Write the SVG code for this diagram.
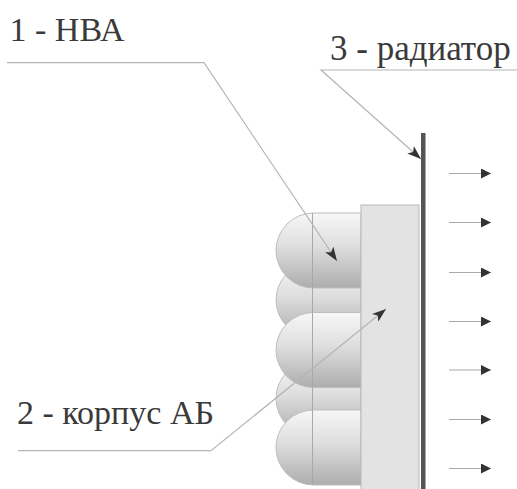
<svg xmlns="http://www.w3.org/2000/svg" width="517" height="489" viewBox="0 0 517 489">
  <defs>
    <linearGradient id="capsuleFill" x1="0" y1="0" x2="0" y2="1">
      <stop offset="0" stop-color="#f7f7f7"/>
      <stop offset="0.45" stop-color="#dedede"/>
      <stop offset="1" stop-color="#adadad"/>
    </linearGradient>
    <marker id="head" viewBox="0 0 14 10" refX="14" refY="5" markerWidth="14" markerHeight="10" markerUnits="userSpaceOnUse" orient="auto">
      <path d="M0,0 L14,5 L0,10 L3.5,5 Z" fill="#333333"/>
    </marker>
    <marker id="flow" viewBox="0 0 10 10" refX="10" refY="5" markerWidth="10" markerHeight="10" markerUnits="userSpaceOnUse" orient="auto">
      <path d="M0,0 L10,5 L0,10 Z" fill="#333333"/>
    </marker>
  </defs>
  <style>
    .label { font-family: 'Liberation Serif', 'Times New Roman', serif; font-size: 34px; fill: #3a3a3a; }
    .leader { fill: none; stroke: #b5b5b5; stroke-width: 1.2; }
    .capsule path { fill: url(#capsuleFill); stroke: #bdbdbd; stroke-width: 1; }
    .capsule line { stroke: #a8a8a8; stroke-width: 1; }
    .heat { stroke: #aaaaaa; stroke-width: 1.2; marker-end: url(#flow); }
  </style>

  <rect width="517" height="489" fill="#ffffff"/>

  <!-- cells: back row first, front row over it -->
  <g id="cells">
    <g class="capsule" id="cell-2">
      <path d="M361,262.5 H313.5 A37.5,37.5 0 0 0 313.5,337.5 H361 Z"/>
      <line x1="312.5" y1="262.5" x2="312.5" y2="337.5"/>
    </g>
    <g class="capsule" id="cell-4">
      <path d="M361,361 H313.5 A37.5,37.5 0 0 0 313.5,436 H361 Z"/>
      <line x1="312.5" y1="361" x2="312.5" y2="436"/>
    </g>
    <g class="capsule" id="cell-1">
      <path d="M361,213 H313.5 A37.5,37.5 0 0 0 313.5,288 H361 Z"/>
      <line x1="312.5" y1="213" x2="312.5" y2="288"/>
    </g>
    <g class="capsule" id="cell-3">
      <path d="M361,312.5 H313.5 A37.5,37.5 0 0 0 313.5,387.5 H361 Z"/>
      <line x1="312.5" y1="312.5" x2="312.5" y2="387.5"/>
    </g>
    <g class="capsule" id="cell-5">
      <path d="M361,410 H313.5 A37.5,37.5 0 0 0 313.5,485 H361 Z"/>
      <line x1="312.5" y1="410" x2="312.5" y2="485"/>
    </g>
  </g>

  <!-- battery housing -->
  <g id="housing">
    <rect x="361" y="205" width="58" height="290" fill="#e3e3e3" stroke="#b8b8b8" stroke-width="1"/>
  </g>

  <!-- radiator plate -->
  <g id="radiator">
    <rect x="421" y="133" width="4.5" height="360" fill="#555555"/>
  </g>

  <!-- heat flow arrows -->
  <g id="heat-flow">
    <line class="heat" x1="449" y1="173.5" x2="491" y2="173.5"/>
    <line class="heat" x1="449" y1="222.5" x2="491" y2="222.5"/>
    <line class="heat" x1="449" y1="272.5" x2="491" y2="272.5"/>
    <line class="heat" x1="449" y1="321.5" x2="491" y2="321.5"/>
    <line class="heat" x1="449" y1="370" x2="491" y2="370"/>
    <line class="heat" x1="449" y1="419.5" x2="491" y2="419.5"/>
    <line class="heat" x1="449" y1="468.5" x2="491" y2="468.5"/>
  </g>

  <!-- callout leaders -->
  <g id="connectors">
    <polyline class="leader" points="7,62.7 204,62.7 337,261" marker-end="url(#head)"/>
    <polyline class="leader" points="517,70 321,70 421,159" marker-end="url(#head)"/>
    <polyline class="leader" points="18,450.7 211,450.7 386,309" marker-end="url(#head)"/>
  </g>

  <g id="label-1">
    <text class="label" x="9.5" y="41">1 - НВА</text>
  </g>
  <g id="label-3">
    <text class="label" x="330" y="60" style="font-size:35px">3 - радиатор</text>
  </g>
  <g id="label-2">
    <text class="label" x="17" y="424">2 - корпус АБ</text>
  </g>
</svg>
